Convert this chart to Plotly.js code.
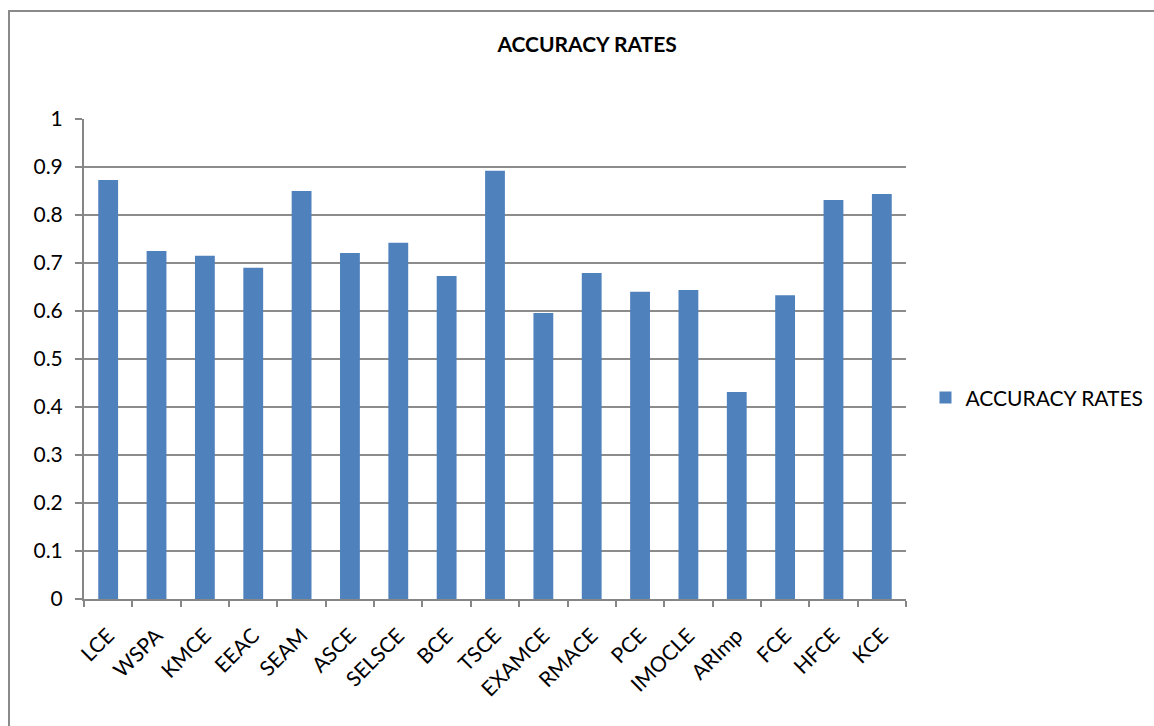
<!DOCTYPE html>
<html>
<head>
<meta charset="utf-8">
<script src="https://cdn.plot.ly/plotly-3.0.1.min.js"></script>
<style>
html,body{margin:0;padding:0;background:#fff;overflow:hidden;width:1154px;height:726px;}
#chart{width:1190px;height:726px;position:absolute;left:0;top:0;}
#frame{position:absolute;left:8px;top:10px;width:1300px;height:900px;border-left:2px solid #8a8a8a;border-top:2px solid #8a8a8a;pointer-events:none;}
</style>
</head>
<body>
<div id="chart"></div>
<div id="frame"></div>
<script>
const categories = ["LCE","WSPA","KMCE","EEAC","SEAM","ASCE","SELSCE","BCE","TSCE","EXAMCE","RMACE","PCE","IMOCLE","ARImp","FCE","HFCE","KCE"];
const accuracyRates = [0.873,0.725,0.715,0.690,0.850,0.721,0.742,0.673,0.892,0.596,0.679,0.640,0.644,0.431,0.633,0.831,0.844];
const seriesName = "ACCURACY RATES";
const yTickVals = [0,0.1,0.2,0.3,0.4,0.5,0.6,0.7,0.8,0.9,1];
const yTickText = ["0","0.1","0.2","0.3","0.4","0.5","0.6","0.7","0.8","0.9","1"];

const font = "Lato, 'Open Sans', 'Liberation Sans', sans-serif";
const trace = {
  type: "bar",
  x: categories,
  y: accuracyRates,
  name: seriesName,
  marker: {color: "#4f81bd"},
  showlegend: true
};
const layout = {
  width: 1190, height: 726,
  margin: {l: 84, r: 284, t: 119, b: 127},
  paper_bgcolor: "#fff", plot_bgcolor: "#fff",
  title: {text: "<b>ACCURACY RATES</b>", font: {family: font, size: 21, color: "#000"}, xref: "paper", x: 0.612, xanchor: "center", y: 0.938, yanchor: "middle"},
  bargap: 0.59,
  showlegend: true,
  legend: {x: 1.0237, y: 0.419, xanchor: "left", yanchor: "middle", font: {family: font, size: 21, color: "#000"}, itemwidth: 30},
  xaxis: {
    type: "category",
    tickangle: -45,
    tickson: "boundaries",
    ticks: "outside", ticklen: 6, tickcolor: "#868686", tickwidth: 2,
    showline: true, linecolor: "#868686", linewidth: 2,
    showgrid: false,
    tickfont: {family: font, size: 21, color: "#000"},
    ticklabelstandoff: 14,
    automargin: false
  },
  yaxis: {
    range: [0, 1],
    tickvals: yTickVals, ticktext: yTickText,
    ticks: "outside", ticklen: 7, tickcolor: "#868686", tickwidth: 2,
    showline: true, linecolor: "#868686", linewidth: 2,
    showgrid: true, gridcolor: "#8c8c8c", gridwidth: 2,
    zeroline: false,
    tickfont: {family: font, size: 21, color: "#000"},
    ticklabelstandoff: 8,
    automargin: false
  }
};
Plotly.newPlot("chart", [trace], layout, {displayModeBar: false, staticPlot: true});
</script>
</body>
</html>
